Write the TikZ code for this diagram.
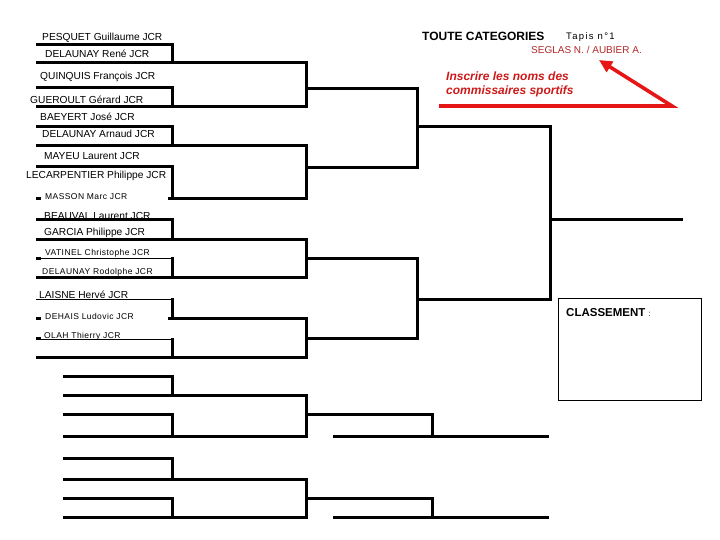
\documentclass[tikz,border=0pt]{standalone}
\usepackage{fontspec}
\setmainfont{Liberation Sans}
\usetikzlibrary{arrows.meta}
\definecolor{arrred}{RGB}{230,22,22}
\definecolor{seglas}{RGB}{178,40,40}
\definecolor{inscr}{RGB}{205,25,25}
\begin{document}
\begin{tikzpicture}[x=1pt,y=-1pt,
  nm/.style={anchor=west, inner sep=0pt, font=\fontsize{10.2}{12}\selectfont},
  sn/.style={anchor=west, inner sep=0pt, font=\fontsize{8.5}{10}\selectfont\addfontfeature{LetterSpace=5}},
  bar/.style={line width=3pt, line join=miter},
  thinbar/.style={line width=1pt}]
\useasboundingbox (0,0) rectangle (720,540);
% names
\node[nm] (n1) at (42,38) {PESQUET Guillaume JCR};
\node[nm] (n2) at (45,54) {DELAUNAY René JCR};
\node[nm] (n3) at (40,77) {QUINQUIS François JCR};
\node[nm] (n4) at (30,100) {GUEROULT Gérard JCR};
\node[nm] (n5) at (40,117) {BAEYERT José JCR};
\node[nm] (n6) at (42,134) {DELAUNAY Arnaud JCR};
\node[nm] (n7) at (44,156) {MAYEU Laurent JCR};
\node[nm] (n8) at (26,176) {LECARPENTIER Philippe JCR};
\node[sn] (n9) at (45,197) {MASSON Marc JCR};
\node[nm] (n10) at (44,216) {BEAUVAL Laurent JCR};
\node[nm] (n11) at (44,233) {GARCIA Philippe JCR};
\node[sn] (n12) at (45,253) {VATINEL Christophe JCR};
\node[sn] (n13) at (42,272) {DELAUNAY Rodolphe JCR};
\node[nm] (n14) at (39,295) {LAISNE Hervé JCR};
\node[sn] (n15) at (45,316) {DEHAIS Ludovic JCR};
\node[sn] (n16) at (44,336) {OLAH Thierry JCR};
% header
\node[anchor=west, inner sep=0pt, font=\fontsize{12}{14}\selectfont\bfseries] (title) at (422,36) {TOUTE CATEGORIES};
\node[anchor=west, inner sep=0pt, font=\fontsize{9.5}{11}\selectfont\addfontfeature{LetterSpace=14}] (tapis) at (566,37) {Tapis n°1};
\node[anchor=west, inner sep=0pt, text=seglas, font=\fontsize{10}{12}\selectfont] (seg) at (531,50) {SEGLAS N. / AUBIER A.};
\node[anchor=west, inner sep=0pt, text=inscr, font=\fontsize{12}{14}\selectfont\bfseries\itshape] (ins1) at (446,76) {Inscrire les noms des};
\node[anchor=west, inner sep=0pt, text=inscr, font=\fontsize{12}{14}\selectfont\bfseries\itshape] (ins2) at (446,91) {commissaires sportifs};
\coordinate (a0) at (439,106);
\coordinate (a1) at (672,106);
\coordinate (a2) at (599,60);
\draw[arrred, line width=3.6pt, -{Triangle[length=13pt,width=12pt]}] (a0) -- (a1) -- (a2);
% classement
\draw[line width=0.8pt] (558,298) rectangle (701,400);
\node[anchor=west, inner sep=0pt] (cl) at (566,313) {\fontsize{11.5}{13}\selectfont\bfseries CLASSEMENT \fontsize{8}{10}\mdseries :};
% upper bracket, round 1
\draw[bar] (36,45) -| (172,63);
\draw[bar] (36,63) -- (306,63) -- (306,107) -- (36,107);
\draw[bar] (36,88) -| (172,107);
\draw[bar] (36,127) -| (172,146);
\draw[bar] (36,146) -- (306,146) -- (306,199) -- (168,199);
\draw[bar] (36,167) -| (172,199);
\draw[bar] (36,199) -- (41,199);
\draw[bar] (36,220) -| (172,239);
\draw[bar] (36,239) -- (306,239) -- (306,277) -- (36,277);
\draw[bar] (36,258) -- (41,258);
\draw[thinbar] (41,258) -- (172,258);
\draw[bar] (172,257) -- (172,277);
\draw[thinbar] (36,299) -- (172,299);
\draw[bar] (172,298) -- (172,318);
\draw[bar] (168,318) -- (306,318) -- (306,357) -- (36,357);
\draw[bar] (36,318) -- (41,318);
\draw[bar] (36,338) -- (41,338);
\draw[thinbar] (41,339) -- (172,339);
\draw[bar] (172,338) -- (172,357);
% upper bracket, later rounds
\draw[bar] (306,89) -- (417,89) -- (417,168) -- (306,168);
\draw[bar] (306,258) -- (417,258) -- (417,338) -- (306,338);
\draw[bar] (417,127) -- (550,127) -- (550,299) -- (417,299);
\draw[bar] (550,220) -- (683,220);
% lower bracket
\draw[bar] (63,376) -| (172,395);
\draw[bar] (63,395) -- (306,395) -- (306,436) -- (63,436);
\draw[bar] (63,414) -| (172,436);
\draw[bar] (306,414) -- (432,414) -- (432,436);
\draw[bar] (333,436) -- (549,436);
\draw[bar] (63,458) -| (172,479);
\draw[bar] (63,479) -- (306,479) -- (306,517) -- (63,517);
\draw[bar] (63,498) -| (172,517);
\draw[bar] (306,498) -- (432,498) -- (432,517);
\draw[bar] (333,517) -- (549,517);
\end{tikzpicture}
\end{document}
